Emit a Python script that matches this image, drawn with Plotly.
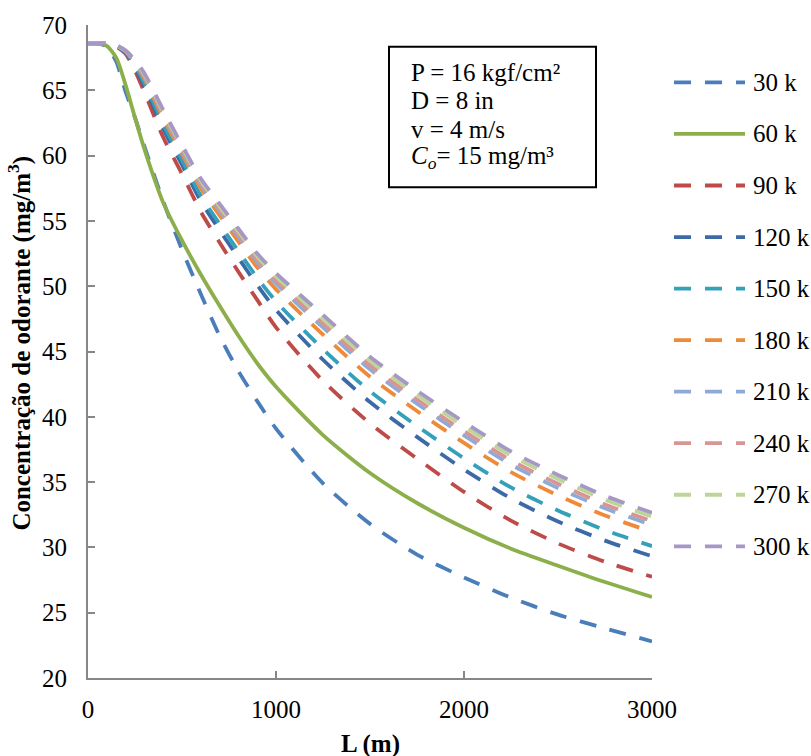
import plotly.graph_objects as go

# Pipe length (m)
L_m = [0, 50, 100, 150, 200, 250, 300, 400, 500, 600, 700, 800, 900, 1000,
       1250, 1500, 1750, 2000, 2250, 2500, 2750, 3000]

# Odorant concentration (mg/m³) for each flow rate
c_30k = [68.6, 68.6, 68.35, 67.2, 64.9, 62.9, 60.7, 56.5, 52.8, 49.4, 46.2, 43.5, 41.2, 39.1,
         34.9, 31.8, 29.45, 27.7, 26.15, 24.85, 23.8, 22.8]
c_60k = [68.6, 68.6, 68.4, 67.5, 65.4, 62.9, 60.5, 56.4, 53.5, 50.9, 48.5, 46.2, 44.1, 42.3,
         38.6, 35.7, 33.4, 31.5, 29.9, 28.6, 27.35, 26.2]
c_90k = [68.6, 68.6, 68.55, 68.35, 67.8, 66.5, 64.85, 61.4, 58.6, 55.7, 53.35, 51.1, 48.95, 46.85,
         42.75, 39.5, 36.8, 34.25, 32.05, 30.3, 28.9, 27.75]
c_120k = [68.6, 68.6, 68.57, 68.38, 67.88, 66.76, 65.31, 62.07, 59.3, 56.52, 54.29, 52.16, 50.09, 48.18,
          44.37, 41.13, 38.46, 35.96, 33.75, 31.98, 30.52, 29.32]
c_150k = [68.6, 68.6, 68.57, 68.4, 67.92, 66.88, 65.55, 62.41, 59.66, 56.92, 54.77, 52.68, 50.65, 48.84,
          45.17, 41.95, 39.3, 36.82, 34.59, 32.82, 31.32, 30.1]
c_180k = [68.6, 68.6, 68.58, 68.42, 67.98, 67.06, 65.87, 62.87, 60.14, 57.49, 55.42, 53.41, 51.44, 49.76,
          46.29, 43.07, 40.44, 38.0, 35.76, 33.98, 32.44, 31.18]
c_210k = [68.6, 68.6, 68.59, 68.43, 68.0, 67.15, 66.02, 63.1, 60.38, 57.77, 55.74, 53.77, 51.83, 50.21,
          46.84, 43.63, 41.01, 38.58, 36.34, 34.55, 32.99, 31.72]
c_240k = [68.6, 68.6, 68.59, 68.44, 68.02, 67.2, 66.11, 63.23, 60.51, 57.92, 55.92, 53.97, 52.04, 50.46,
          47.14, 43.94, 41.32, 38.9, 36.66, 34.87, 33.29, 32.01]
c_270k = [68.6, 68.6, 68.6, 68.44, 68.04, 67.25, 66.21, 63.37, 60.67, 58.1, 56.12, 54.2, 52.29, 50.75,
          47.5, 44.29, 41.69, 39.28, 37.03, 35.24, 33.65, 32.36]
c_300k = [68.6, 68.6, 68.6, 68.45, 68.05, 67.3, 66.3, 63.5, 60.8, 58.25, 56.3, 54.4, 52.5, 51.0,
          47.8, 44.6, 42.0, 39.6, 37.35, 35.55, 33.95, 32.65]

series_names = ["30 k", "60 k", "90 k", "120 k", "150 k", "180 k", "210 k", "240 k", "270 k", "300 k"]
series_values = [c_30k, c_60k, c_90k, c_120k, c_150k, c_180k, c_210k, c_240k, c_270k, c_300k]
series_colors = ["#4A7EBB", "#8DAF4B", "#BE4B48", "#3C6AA6", "#35A0B9",
                 "#EE8A38", "#90AAD6", "#D99593", "#BDD597", "#A797C6"]
series_dash = ["17px,14px", "solid"] + ["17px,14px"] * 8

x_ticks = [0, 1000, 2000, 3000]
y_ticks = [20, 25, 30, 35, 40, 45, 50, 55, 60, 65, 70]

info_lines = ["P = 16 kgf/cm²", "D = 8 in", "v = 4 m/s", "<i>C</i><sub><i>o</i></sub>= 15 mg/m³"]

FONT = "Liberation Serif"
W, H = 811, 756
ML, MR, MT, MB = 88, 159, 18, 78
PW, PH = W - ML - MR, H - MT - MB


def px_x(px):
    return (px - ML) / PW


def px_y(py):
    return (H - MB - py) / PH


fig = go.Figure()
for name, vals, color, dash in zip(series_names, series_values, series_colors, series_dash):
    fig.add_trace(go.Scatter(
        x=L_m, y=vals, name=name, mode="lines",
        line=dict(color=color, width=3.8, dash=dash, shape="spline", smoothing=0.7),
        showlegend=False,
    ))

shapes = []
annotations = []

# Legend drawn beside the plot area
for i, (name, color, dash) in enumerate(zip(series_names, series_colors, series_dash)):
    yc = 76 + 52.1 * i
    shapes.append(dict(type="line", xref="paper", yref="paper",
                       x0=px_x(674), x1=px_x(745), y0=px_y(yc), y1=px_y(yc),
                       line=dict(color=color, width=3.8, dash=dash)))
    annotations.append(dict(xref="paper", yref="paper", x=px_x(751), y=px_y(yc),
                            xanchor="left", yanchor="middle", text=name, showarrow=False,
                            font=dict(family=FONT, size=25, color="black")))

# Operating conditions box
shapes.append(dict(type="rect", xref="paper", yref="paper",
                   x0=px_x(389), x1=px_x(596), y0=px_y(182), y1=px_y(40),
                   line=dict(color="black", width=2), fillcolor="white", layer="above"))
for i, line in enumerate(info_lines):
    annotations.append(dict(xref="paper", yref="paper", x=px_x(409), y=px_y(66 + 28.7 * i),
                            xanchor="left", yanchor="middle", text=line, showarrow=False,
                            font=dict(family=FONT, size=25, color="black")))

# Axis titles
annotations.append(dict(xref="paper", yref="paper", x=px_x(20), y=px_y(340),
                        xanchor="center", yanchor="middle", textangle=-90, showarrow=False,
                        text="<b>Concentração de odorante (mg/m<sup>3</sup>)</b>",
                        font=dict(family=FONT, size=25, color="black")))
annotations.append(dict(xref="paper", yref="paper", x=px_x(370), y=px_y(745),
                        xanchor="center", yanchor="middle", showarrow=False,
                        text="<b>L (m)</b>",
                        font=dict(family=FONT, size=25, color="black")))

axis_common = dict(showline=True, linecolor="#878787", linewidth=2,
                   ticks="inside", ticklen=7, tickwidth=2, tickcolor="#878787",
                   showgrid=False, zeroline=False,
                   tickfont=dict(family=FONT, size=25, color="black"))

fig.update_layout(
    width=W, height=H,
    margin=dict(l=ML, r=MR, t=MT, b=MB, pad=0),
    paper_bgcolor="white", plot_bgcolor="white",
    font=dict(family=FONT, size=25, color="black"),
    xaxis=dict(range=[0, 3000], tickvals=x_ticks, ticklabelstandoff=8, **axis_common),
    yaxis=dict(range=[20, 70], tickvals=y_ticks, ticklabelstandoff=14, **axis_common),
    shapes=shapes, annotations=annotations,
    showlegend=False,
)

fig.write_html("out.html")
